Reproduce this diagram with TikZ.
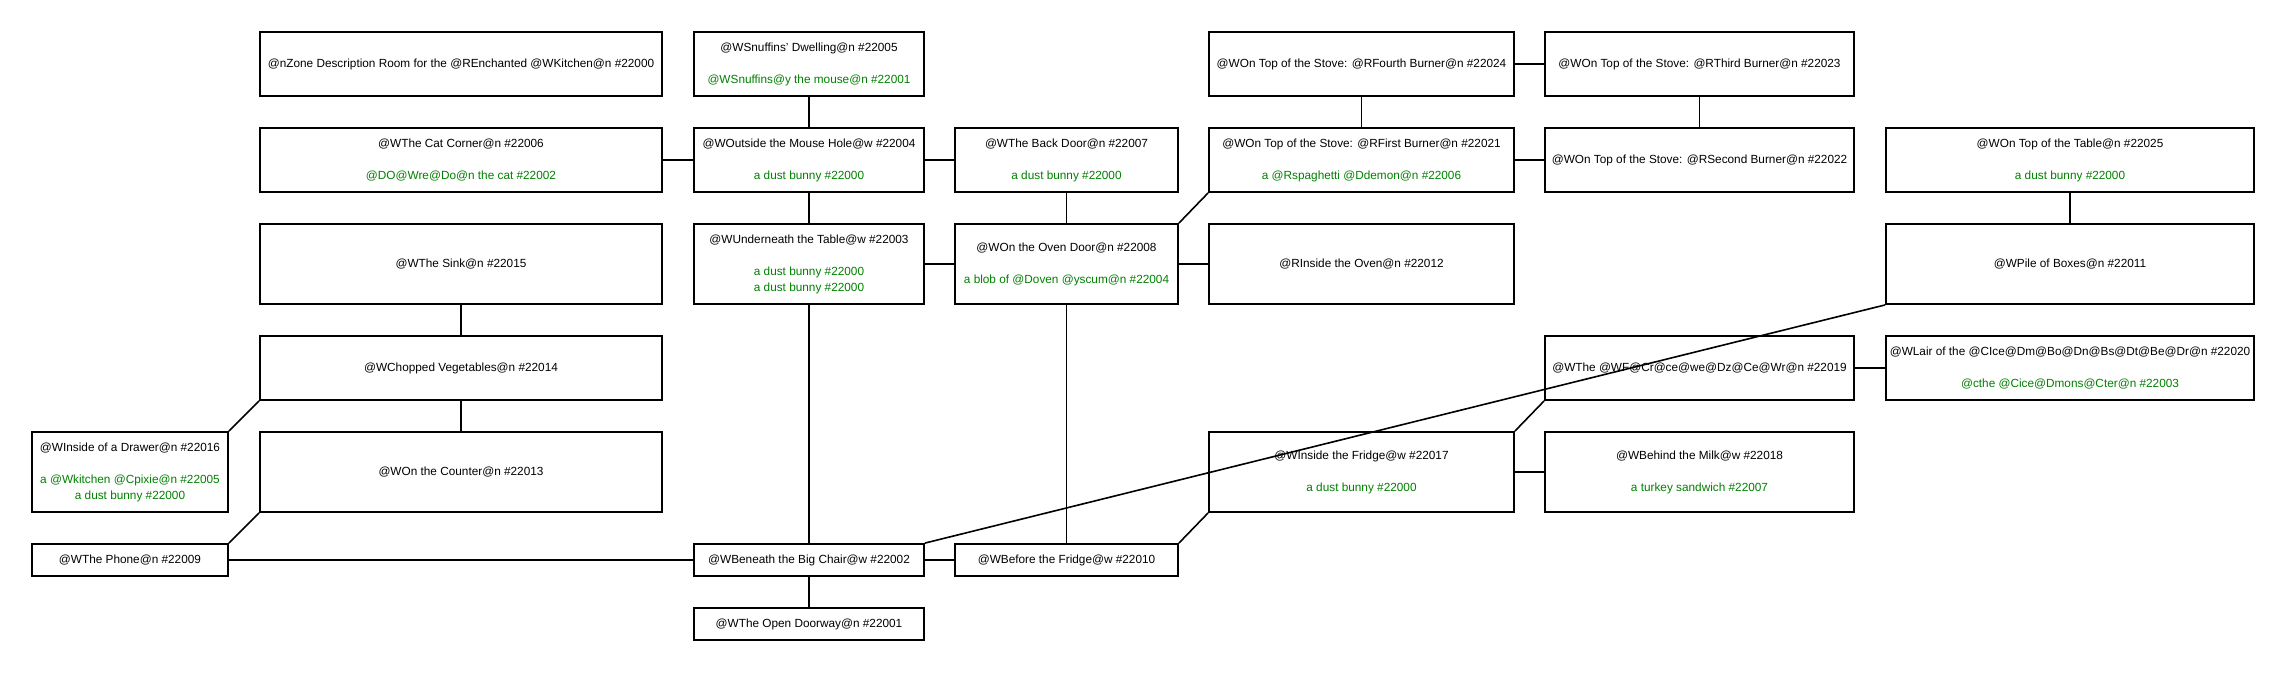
\documentclass[tikz,border=0pt]{standalone}
\usepackage{fontspec}
\setmainfont{Liberation Sans}
\definecolor{objgreen}{RGB}{0,128,0}
\begin{document}
\begin{tikzpicture}[x=0.75pt,y=-0.75pt,
  room/.style={draw=black,line width=1.4pt,inner sep=0pt,align=center,
    font=\fontsize{8.85}{12}\selectfont},
  colA/.style={minimum width=147pt},
  colB/.style={minimum width=301.5pt},
  colC/.style={minimum width=172.5pt},
  colD/.style={minimum width=167.25pt},
  colE/.style={minimum width=228.75pt},
  colF/.style={minimum width=231.75pt},
  colG/.style={minimum width=276pt},
  rowS/.style={minimum height=48pt},
  rowT/.style={minimum height=60pt},
  rowL/.style={minimum height=24pt},
  link/.style={line width=1.2pt},
  obj/.style={text=objgreen}]
\useasboundingbox (0,0) rectangle (2286,672);
% row 1
\node[room,colB,rowS] (z22000) at (461,64) {@nZone Description Room for the @REnchanted @WKitchen@n \#22000};
\node[room,colC,rowS] (r22005) at (809,64) {@WSnuffins' Dwelling@n \#22005\\[12pt]\textcolor{objgreen}{@WSnuffins@y the mouse@n \#22001}};
\node[room,colE,rowS] (r22024) at (1361.5,64) {@WOn Top of the Stove: @RFourth Burner@n \#22024};
\node[room,colF,rowS] (r22023) at (1699.5,64) {@WOn Top of the Stove: @RThird Burner@n \#22023};
% row 2
\node[room,colB,rowS] (r22006) at (461,160) {@WThe Cat Corner@n \#22006\\[12pt]\textcolor{objgreen}{@DO@Wre@Do@n the cat \#22002}};
\node[room,colC,rowS] (r22004) at (809,160) {@WOutside the Mouse Hole@w \#22004\\[12pt]\textcolor{objgreen}{a dust bunny \#22000}};
\node[room,colD,rowS] (r22007) at (1066.5,160) {@WThe Back Door@n \#22007\\[12pt]\textcolor{objgreen}{a dust bunny \#22000}};
\node[room,colE,rowS] (r22021) at (1361.5,160) {@WOn Top of the Stove: @RFirst Burner@n \#22021\\[12pt]\textcolor{objgreen}{a @Rspaghetti @Ddemon@n \#22006}};
\node[room,colF,rowS] (r22022) at (1699.5,160) {@WOn Top of the Stove: @RSecond Burner@n \#22022};
\node[room,colG,rowS] (r22025) at (2070,160) {@WOn Top of the Table@n \#22025\\[12pt]\textcolor{objgreen}{a dust bunny \#22000}};
% row 3
\node[room,colB,rowT] (r22015) at (461,264) {@WThe Sink@n \#22015};
\node[room,colC,rowT] (r22003) at (809,264) {@WUnderneath the Table@w \#22003\\[12pt]\textcolor{objgreen}{a dust bunny \#22000}\\\textcolor{objgreen}{a dust bunny \#22000}};
\node[room,colD,rowT] (r22008) at (1066.5,264) {@WOn the Oven Door@n \#22008\\[12pt]\textcolor{objgreen}{a blob of @Doven @yscum@n \#22004}};
\node[room,colE,rowT] (r22012) at (1361.5,264) {@RInside the Oven@n \#22012};
\node[room,colG,rowT] (r22011) at (2070,264) {@WPile of Boxes@n \#22011};
% row 4
\node[room,colB,rowS] (r22014) at (461,368) {@WChopped Vegetables@n \#22014};
\node[room,colF,rowS] (r22019) at (1699.5,368) {@WThe @WF@Cr@ce@we@Dz@Ce@Wr@n \#22019};
\node[room,colG,rowS] (r22020) at (2070,368) {@WLair of the @CIce@Dm@Bo@Dn@Bs@Dt@Be@Dr@n \#22020\\[12pt]\textcolor{objgreen}{@cthe @Cice@Dmons@Cter@n \#22003}};
% row 5
\node[room,colA,rowT] (r22016) at (130,472) {@WInside of a Drawer@n \#22016\\[12pt]\textcolor{objgreen}{a @Wkitchen @Cpixie@n \#22005}\\\textcolor{objgreen}{a dust bunny \#22000}};
\node[room,colB,rowT] (r22013) at (461,472) {@WOn the Counter@n \#22013};
\node[room,colE,rowT] (r22017) at (1361.5,472) {@WInside the Fridge@w \#22017\\[12pt]\textcolor{objgreen}{a dust bunny \#22000}};
\node[room,colF,rowT] (r22018) at (1699.5,472) {@WBehind the Milk@w \#22018\\[12pt]\textcolor{objgreen}{a turkey sandwich \#22007}};
% row 6
\node[room,colA,rowL] (r22009) at (130,560) {@WThe Phone@n \#22009};
\node[room,colC,rowL] (r22002) at (809,560) {@WBeneath the Big Chair@w \#22002};
\node[room,colD,rowL] (r22010) at (1066.5,560) {@WBefore the Fridge@w \#22010};
% row 7
\node[room,colC,rowL] (r22001) at (809,624) {@WThe Open Doorway@n \#22001};
% links
\draw[link] (r22005.south) -- (r22004.north);
\draw[link] (r22006.east) -- (r22004.west);
\draw[link] (r22004.east) -- (r22007.west);
\draw[link] (r22004.south) -- (r22003.north);
\draw[link] (r22007.south) -- (r22008.north);
\draw[link] (r22003.east) -- (r22008.west);
\draw[link] (r22008.east) -- (r22012.west);
\draw[link] (r22008.north east) -- (r22021.south west);
\draw[link] (r22024.east) -- (r22023.west);
\draw[link] (r22024.south) -- (r22021.north);
\draw[link] (r22023.south) -- (r22022.north);
\draw[link] (r22021.east) -- (r22022.west);
\draw[link] (r22025.south) -- (r22011.north);
\draw[link] (r22015.south) -- (r22014.north);
\draw[link] (r22014.south) -- (r22013.north);
\draw[link] (r22016.north east) -- (r22014.south west);
\draw[link] (r22009.north east) -- (r22013.south west);
\draw[link] (r22009.east) -- (r22002.west);
\draw[link] (r22003.south) -- (r22002.north);
\draw[link] (r22002.south) -- (r22001.north);
\draw[link] (r22002.east) -- (r22010.west);
\draw[link] (r22002.north east) -- (r22011.south west);
\draw[link] (r22008.south) -- (r22010.north);
\draw[link] (r22010.north east) -- (r22017.south west);
\draw[link] (r22017.east) -- (r22018.west);
\draw[link] (r22017.north east) -- (r22019.south west);
\draw[link] (r22019.east) -- (r22020.west);
\end{tikzpicture}
\end{document}
